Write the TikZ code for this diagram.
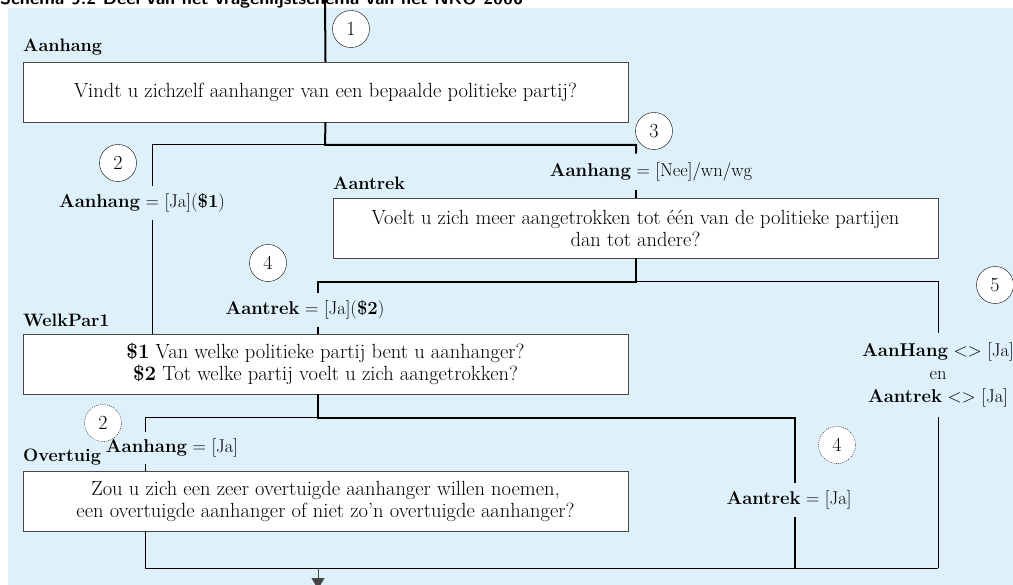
\documentclass[tikz,border=0pt]{standalone}
\usetikzlibrary{arrows.meta}
\definecolor{panel}{RGB}{222,241,250}
\definecolor{rim}{RGB}{70,70,70}
\begin{document}
\begin{tikzpicture}[x=1pt,y=-1pt,
  % common options for the question boxes:
  qbox/.style = {draw=rim, fill=white, align=center, minimum width=605pt,
              minimum height=60pt, inner sep=0, font=\fontsize{20.5}{22}\selectfont},
  % common options for the circles:
  ball/.style = {circle, draw, fill=white, minimum size=37pt, inner sep=0,
              font=\fontsize{20}{21}\selectfont},
  % conditions written on the routes:
  cond/.style = {align=center, inner xsep=1pt, inner ysep=8pt,
              font=\fontsize{18.5}{23}\selectfont},
  head/.style = {anchor=base west, inner sep=0, font=\fontsize{18}{21}\selectfont\bfseries},
  main/.style = {line width=2pt},
  side/.style = {line width=1pt}]
\useasboundingbox (0,0) rectangle (1013,585);
\fill[panel] (8,8) rectangle (1013,590);
\node[anchor=base west, inner sep=0, font=\sffamily\bfseries\fontsize{18}{20}\selectfont] (title) at (0,5)
  {Schema 9.2 Deel van het vragenlijstschema van het NKO 2006};
% headings
\node[head] (hA) at (23,52) {Aanhang};
\node[head] (hB) at (333,190) {Aantrek};
\node[head] (hC) at (23,327) {WelkPar1};
\node[head] (hD) at (23,461) {Overtuig};
% questions
\node[qbox] (aanhang) at (325.5,92) {Vindt u zichzelf aanhanger van een bepaalde politieke partij?};
\node[qbox] (aantrek) at (635.5,228) {Voelt u zich meer aangetrokken tot één van de politieke partijen\\dan tot andere?};
\node[qbox] (welkpar) at (325.5,364) {\textbf{\$1} Van welke politieke partij bent u aanhanger?\\\textbf{\$2} Tot welke partij voelt u zich aangetrokken?};
\node[qbox] (overtuig) at (325.5,501) {Zou u zich een zeer overtuigde aanhanger willen noemen,\\een overtuigde aanhanger of niet zo’n overtuigde aanhanger?};
% conditions
\node[cond] (ja1) at (142,203) {\textbf{Aanhang} = [Ja](\textbf{\$1})};
\node[cond, inner ysep=9pt] (nee1) at (651,172) {\textbf{Aanhang} = [Nee]/wn/wg};
\node[cond] (ja2) at (305,310) {\textbf{Aantrek} = [Ja](\textbf{\$2})};
\node[cond, inner ysep=10pt] (geen) at (938,375) {\textbf{AanHang} <> [Ja]\\en\\\textbf{Aantrek} <> [Ja]};
\node[cond, inner ysep=7pt] (ja3) at (172,448) {\textbf{Aanhang} = [Ja]};
\node[cond] (ja4) at (789,500) {\textbf{Aantrek} = [Ja]};
% junctions
\coordinate (start) at (325,0);
\coordinate (s1) at (325,145);
\coordinate (k1) at (152,145);
\coordinate (k2) at (636,145);
\coordinate (s2) at (636,282);
\coordinate (k3) at (318,282);
\coordinate (k4) at (938,282);
\coordinate (s3) at (318,418);
\coordinate (k5) at (145,418);
\coordinate (k6) at (795,418);
\coordinate (s4) at (318,568);
\coordinate (stop) at (318,589);
% routes
\draw[main] (start) -- (aanhang.north);
\draw[main] (aanhang.south) -- (s1) -- (k2) -- (k2 |- nee1.north);
\draw[main] (k2 |- nee1.south) -- (k2 |- aantrek.north);
\draw[side] (s1) -- (k1) -- (k1 |- ja1.north);
\draw[side] (k1 |- ja1.south) -- (k1 |- welkpar.north);
\draw[main] (s2 |- aantrek.south) -- (s2) -- (k3) -- (k3 |- ja2.north);
\draw[main] (k3 |- ja2.south) -- (k3 |- welkpar.north);
\draw[side] (s2) -- (k4) -- (k4 |- geen.north);
\draw[side] (k4 |- geen.south) -- (k4 |- s4);
\draw[main] (s3 |- welkpar.south) -- (s3) -- (k6) -- (k6 |- ja4.north);
\draw[main] (k6 |- ja4.south) -- (k6 |- s4);
\draw[side] (s3) -- (k5) -- (k5 |- ja3.north);
\draw[side] (k5 |- ja3.south) -- (k5 |- overtuig.north);
\draw[side] (k5 |- overtuig.south) -- (k5 |- s4) -- (k4 |- s4);
\draw[side, draw=rim, -{Triangle[length=11pt,width=13pt]}] (s4) -- (stop);
% circles
\node[ball] (n1) at (351,29) {1};
\node[ball] (n2) at (118,163) {2};
\node[ball] (n3) at (654,131) {3};
\node[ball] (n4) at (268,263) {4};
\node[ball] (n5) at (995,285) {5};
\node[ball, dash pattern=on 1pt off 1.2pt] (n2b) at (103,423) {2};
\node[ball, dash pattern=on 1pt off 1.2pt] (n4b) at (837,445) {4};
\end{tikzpicture}
\end{document}
